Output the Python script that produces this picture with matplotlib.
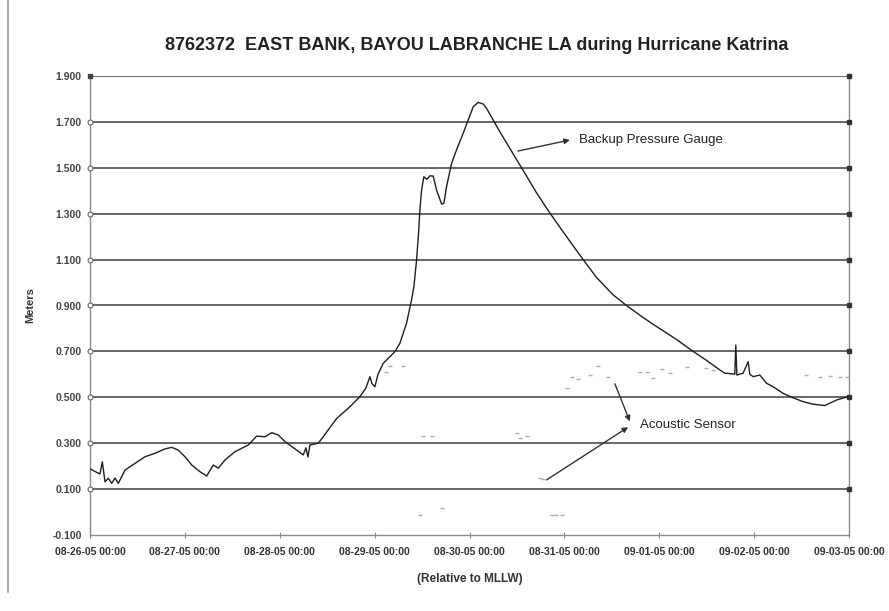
import datetime as dt
import matplotlib
matplotlib.use("Agg")
import matplotlib.pyplot as plt
import matplotlib.dates as mdates
from matplotlib.lines import Line2D

# Water level, backup pressure gauge (days since 08-26-05 00:00, meters above MLLW)
gauge_days = [0.000, 0.105, 0.130, 0.158, 0.193, 0.229, 0.263, 0.298, 0.369, 0.474,
              0.580, 0.685, 0.790, 0.861, 0.930, 1.001, 1.072, 1.159, 1.230, 1.299,
              1.352, 1.423, 1.528, 1.668, 1.757, 1.844, 1.915, 1.984, 2.055, 2.178,
              2.248, 2.276, 2.297, 2.318, 2.406, 2.458, 2.600, 2.740, 2.845, 2.908,
              2.950, 2.972, 3.003, 3.035, 3.091, 3.214, 3.266, 3.336, 3.389, 3.414,
              3.442, 3.463, 3.477, 3.495, 3.519, 3.551, 3.583, 3.617, 3.653, 3.706,
              3.730, 3.758, 3.811, 3.863, 3.933, 3.986, 4.039, 4.092, 4.144, 4.180,
              4.250, 4.320, 4.461, 4.600, 4.708, 4.847, 5.023, 5.198, 5.339,
              5.515, 5.655, 5.829, 5.936, 6.182, 6.357, 6.498, 6.639, 6.691, 6.779,
              6.796, 6.807, 6.818, 6.884, 6.937, 6.955, 6.990, 7.060, 7.131, 7.200,
              7.306, 7.411, 7.516, 7.622, 7.745, 7.868, 7.990]
gauge_m = [0.188, 0.166, 0.219, 0.132, 0.147, 0.125, 0.148, 0.125, 0.183, 0.212,
           0.241, 0.256, 0.275, 0.282, 0.270, 0.241, 0.205, 0.176, 0.157, 0.205,
           0.191, 0.227, 0.263, 0.292, 0.331, 0.328, 0.346, 0.336, 0.307, 0.270,
           0.249, 0.280, 0.240, 0.292, 0.300, 0.328, 0.408, 0.459, 0.503, 0.540,
           0.590, 0.560, 0.546, 0.600, 0.648, 0.699, 0.735, 0.822, 0.924, 0.982,
           1.098, 1.215, 1.316, 1.403, 1.461, 1.450, 1.465, 1.464, 1.403, 1.342,
           1.345, 1.418, 1.519, 1.578, 1.650, 1.708, 1.766, 1.785, 1.778, 1.759,
           1.708, 1.657, 1.560, 1.465, 1.390, 1.303, 1.200, 1.100, 1.022,
           0.946, 0.900, 0.848, 0.818, 0.752, 0.700, 0.661, 0.619, 0.605, 0.602,
           0.600, 0.728, 0.597, 0.605, 0.655, 0.600, 0.590, 0.597, 0.561, 0.546,
           0.517, 0.498, 0.481, 0.470, 0.464, 0.488, 0.503]

# Sparse returns from the acoustic sensor
acoustic_days = [3.119, 3.161, 3.301, 3.512, 3.601, 3.477, 3.706, 4.496, 4.531, 4.602,
                 4.742, 4.773, 4.865, 4.910, 4.970, 5.023, 5.076, 5.145, 5.269, 5.356,
                 5.462, 5.796, 5.866, 5.936, 6.024, 6.112, 6.288, 6.498, 6.565, 7.552,
                 7.692, 7.798, 7.903, 7.974]
acoustic_m = [0.612, 0.636, 0.636, 0.331, 0.331, -0.013, 0.016, 0.343, 0.321, 0.331,
              0.147, 0.145, -0.013, -0.013, -0.015, 0.542, 0.590, 0.578, 0.597, 0.636,
              0.587, 0.612, 0.610, 0.583, 0.622, 0.605, 0.633, 0.626, 0.620, 0.597,
              0.590, 0.593, 0.590, 0.590]

y_ticks = [-0.1, 0.1, 0.3, 0.5, 0.7, 0.9, 1.1, 1.3, 1.5, 1.7, 1.9]
start = dt.datetime(2005, 8, 26)
x_ticks = [start + dt.timedelta(days=d) for d in range(9)]

title = "8762372  EAST BANK, BAYOU LABRANCHE LA during Hurricane Katrina"
FONT = ["Liberation Sans", "DejaVu Sans"]


def to_time(days):
    return [start + dt.timedelta(days=d) for d in days]


fig = plt.figure(figsize=(8.89, 6.11), dpi=100)
ax = fig.add_axes([90 / 889, 1 - 535 / 611, (849 - 90) / 889, (535 - 76) / 611])

# horizontal gridlines with end markers
for yv in y_ticks[1:]:
    ax.axhline(yv, color="#5a5a5a", lw=1.3, zorder=1)
ax.plot([x_ticks[-1]] * (len(y_ticks) - 1), y_ticks[1:], ls="none", marker="s",
        ms=3.5, color="#333333", zorder=3, clip_on=False)
ax.plot([x_ticks[0]] * (len(y_ticks) - 2), y_ticks[1:-1], ls="none", marker="o",
        ms=3.5, mfc="white", mec="#666666", mew=0.8, zorder=3, clip_on=False)
ax.plot([x_ticks[0]], [y_ticks[-1]], ls="none", marker="s", ms=3.5,
        color="#444444", zorder=3, clip_on=False)

ax.plot(to_time(acoustic_days), acoustic_m, ls="none", marker="_", ms=3.5,
        mew=1.0, color="#ababab", zorder=2)
ax.plot(to_time(gauge_days), gauge_m, color="#1e1e1e", lw=1.0, zorder=4)

ax.set_xlim(x_ticks[0], x_ticks[-1])
ax.set_ylim(-0.1, 1.9)
ax.set_yticks(y_ticks)
ax.set_yticklabels([f"{v:.3f}" for v in y_ticks])
ax.set_xticks(x_ticks)
ax.xaxis.set_major_formatter(mdates.DateFormatter("%m-%d-%y %H:%M"))

ax.spines["top"].set_visible(False)
for s in ["left", "bottom", "right"]:
    ax.spines[s].set_color("#8a8a8a")
    ax.spines[s].set_linewidth(1.0)
ax.tick_params(axis="y", length=0, pad=6, labelsize=7.5, labelcolor="#444444")
ax.tick_params(axis="x", direction="inout", length=5, color="#8a8a8a",
               pad=6, labelsize=7.5, labelcolor="#333333")
for lab in ax.get_xticklabels() + ax.get_yticklabels():
    lab.set_fontfamily(FONT)
    lab.set_fontweight("bold")

ax.set_ylabel("Meters", fontsize=8, fontweight="bold", family=FONT,
              color="#333333", labelpad=12)
ax.set_xlabel("(Relative to MLLW)", fontsize=8.5, fontweight="bold", family=FONT,
              color="#333333", labelpad=12)
fig.text(0.536, 1 - 45 / 611, title, ha="center", va="center", fontsize=13,
         fontweight="bold", family=FONT, color="#222222")

# annotations
arrow = dict(arrowstyle="-|>", color="#333333", lw=1.0, mutation_scale=8,
             shrinkA=0, shrinkB=0)
ax.annotate("", xy=(start + dt.timedelta(days=5.058), 1.621),
            xytext=(start + dt.timedelta(days=4.51), 1.573), arrowprops=arrow)
ax.text(start + dt.timedelta(days=5.153), 1.621, "Backup Pressure Gauge",
        fontsize=9.5, family=FONT, color="#222222", va="center", ha="left")
ax.annotate("", xy=(start + dt.timedelta(days=5.69), 0.395),
            xytext=(start + dt.timedelta(days=5.532), 0.559), arrowprops=arrow)
ax.annotate("", xy=(start + dt.timedelta(days=5.672), 0.370),
            xytext=(start + dt.timedelta(days=4.812), 0.140), arrowprops=arrow)
ax.text(start + dt.timedelta(days=5.80), 0.379, "Acoustic Sensor",
        fontsize=9.5, family=FONT, color="#222222", va="center", ha="left")

# page margin rule on the left
fig.add_artist(Line2D([8 / 889, 8 / 889], [1 - 592 / 611, 1.0],
                      transform=fig.transFigure, color="#999999", lw=1.2))

fig.savefig("out.png", dpi=100, facecolor="white")
